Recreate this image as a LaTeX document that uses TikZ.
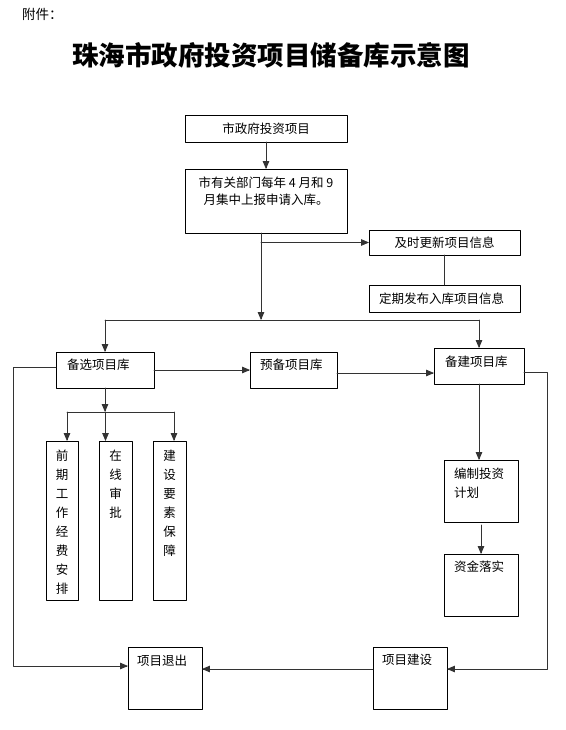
\documentclass[tikz,border=0pt]{standalone}
\usepackage{fontspec}
\setmainfont{Noto Sans CJK SC}
\usepackage{tikz}
\usetikzlibrary{arrows}
\tikzset{
    box/.style={draw,line width=0.8pt,inner sep=0pt,outer sep=0pt},%Frame of every box
    txt/.style={inner sep=0pt,font=\fontsize{12.5}{17}\selectfont},
    vtxt/.style={inner sep=0pt,align=center,anchor=north,font=\fontsize{12.5}{19}\selectfont},
    link/.style={line width=0.8pt,color=black!80}
    }
\begin{document}
\begin{tikzpicture}[line cap=round,line join=round,>=triangle 45,x=1pt,y=-1pt]
\useasboundingbox (0,0) rectangle (565,730);
\node[anchor=west,inner sep=0pt,font=\fontsize{13.5}{16}\selectfont] (fj) at (22,14) {附件：};
\node[inner sep=0pt,font=\fontsize{26.5}{30}\selectfont\bfseries] (title) at (271,55) {珠海市政府投资项目储备库示意图};
% upper part
\node[box,minimum width=162,minimum height=27] (zf) at (266,128.5) {};
\node[txt] at (zf.center) {市政府投资项目};
\node[box,minimum width=162,minimum height=64] (sb) at (266,201) {};
\node[txt,align=center,anchor=north] at ([yshift=-8]sb.north) {市有关部门每年 4 月和 9\\月集中上报申请入库。};
\node[box,minimum width=151,minimum height=25] (gx) at (444.5,242.5) {};
\node[txt] at (gx.center) {及时更新项目信息};
\node[box,minimum width=151,minimum height=27] (fb) at (444.5,298.5) {};
\node[txt] at ([xshift=-3]fb.center) {定期发布入库项目信息};
% three libraries
\node[box,minimum width=98,minimum height=36] (bx) at (105,370) {};
\node[txt,anchor=north west] at ([shift={(11,7)}]bx.north west) {备选项目库};
\node[box,minimum width=87,minimum height=36] (yb) at (293.5,370) {};
\node[txt,anchor=north west] at ([shift={(10,7)}]yb.north west) {预备项目库};
\node[box,minimum width=90,minimum height=36] (bj) at (479,366) {};
\node[txt,anchor=north west] at ([shift={(11,8)}]bj.north west) {备建项目库};
% vertical boxes
\node[box,minimum width=32,minimum height=159] (qq) at (62,520.5) {};
\node[vtxt] at ([yshift=-8.5]qq.north) {前\\期\\工\\作\\经\\费\\安\\排};
\node[box,minimum width=33,minimum height=159] (zx) at (115.5,520.5) {};
\node[vtxt] at ([yshift=-8.5]zx.north) {在\\线\\审\\批};
\node[box,minimum width=33,minimum height=159] (js) at (169.5,520.5) {};
\node[vtxt] at ([yshift=-8.5]js.north) {建\\设\\要\\素\\保\\障};
% right column
\node[box,minimum width=74,minimum height=62] (bz) at (481,491) {};
\node[txt,anchor=north west,align=left,font=\fontsize{12.5}{19}\selectfont] at ([shift={(10,8)}]bz.north west) {编制投资\\计划};
\node[box,minimum width=74,minimum height=62] (zj) at (481,585) {};
\node[txt,anchor=north west] at ([shift={(10,7)}]zj.north west) {资金落实};
% bottom
\node[box,minimum width=74,minimum height=62] (xj) at (410,678) {};
\node[txt,anchor=north west] at ([shift={(9,7)}]xj.north west) {项目建设};
\node[box,minimum width=74,minimum height=62] (tc) at (165,678) {};
\node[txt,anchor=north west] at ([shift={(9,8)}]tc.north west) {项目退出};
% connectors
\coordinate (bus) at (261,320);
\coordinate (fen) at (105,412);
\draw[link,->] (zf.south) -- (sb.north);
\draw[link,->] ([xshift=-5]sb.south) -- (bus);
\draw[link,->] ([xshift=-5]sb.south |- gx.west) -- (gx.west);
\draw[link] (gx.south) -- (fb.north);
\draw[link] (bx.north |- bus) -- (bj.north |- bus);
\draw[link,->] (bx.north |- bus) -- (bx.north);
\draw[link,->] (bj.north |- bus) -- (bj.north);
\draw[link,->] (bx.east) -- (yb.west);
\draw[link,->] ([yshift=-3]yb.east) -- ([yshift=-3]yb.east -| bj.west);
\draw[link,->] (bx.south) -- (fen);
\draw[link] ([xshift=5]qq.north |- fen) -- ([xshift=4.5]js.north |- fen);
\draw[link,->] ([xshift=5]qq.north |- fen) -- ([xshift=5]qq.north);
\draw[link,->] ([xshift=-10]zx.north |- fen) -- ([xshift=-10]zx.north);
\draw[link,->] ([xshift=4.5]js.north |- fen) -- ([xshift=4.5]js.north);
\draw[link,->] (bj.south) -- (bj.south |- bz.north);
\draw[link,->,shorten <=3pt] (bz.south) -- (zj.north);
\draw[link,->] ([yshift=3]bx.west) -- (13,367) -- (13,666) -- ([yshift=12]tc.west);
\draw[link,->] ([yshift=-6]bj.east) -- (547,372) -- (547,669) -- ([yshift=9]xj.east);
\draw[link,->] ([yshift=9]xj.west) -- ([yshift=9]tc.east);
\end{tikzpicture}
\end{document}
